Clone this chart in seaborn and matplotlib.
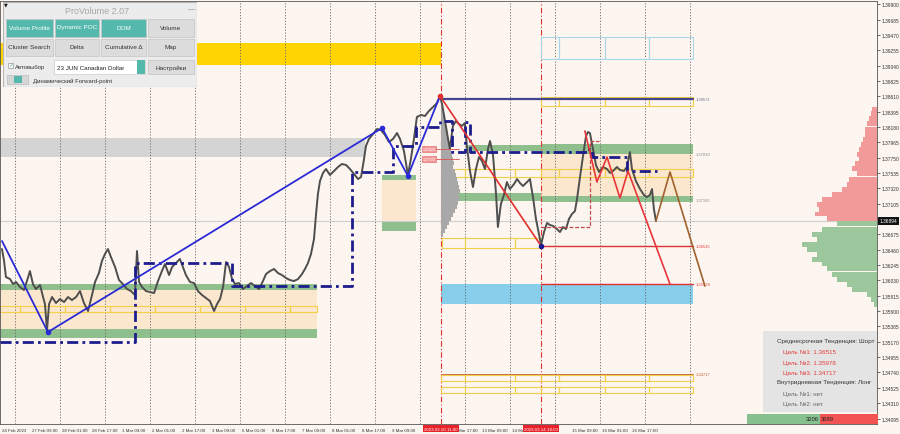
import matplotlib
matplotlib.use("Agg")
from matplotlib import pyplot as plt
from matplotlib import transforms
from matplotlib.patches import Rectangle
import numpy as np
import seaborn as sns

# --- chart data (hours since 24 Feb 2023 17:00, trading hours only; prices USDCAD) ---
tick_labels = ["24 Feb 2023", "27 Feb 09:00", "28 Feb 01:00", "28 Feb 17:00", "1 Mar 09:00",
               "2 Mar 01:00", "2 Mar 17:00", "3 Mar 09:00", "6 Mar 01:00", "6 Mar 17:00",
               "7 Mar 09:00", "8 Mar 01:00", "8 Mar 17:00", "9 Mar 09:00", "",
               "10 Mar 17:00", "13 Mar 09:00", "14 Mar 01:00", "", "15 Mar 09:00",
               "16 Mar 01:00", "16 Mar 17:00"]
marked_times = [234.1, 287.5]
marked_labels = ["2023.03.10 11:00", "2023.03.14 18:00"]

price_hours = [0, 1.1, 2.1, 4.3, 5.9, 7.5, 9.6, 11.7, 13.3, 14.9,
               16.5, 18.1, 20.3, 21.9, 22.9, 24.0, 25.1, 26.7, 28.8, 30.9,
               33.1, 35.2, 37.3, 39.5, 41.6, 43.7, 45.9, 48.0, 49.6, 51.7,
               53.3, 54.9, 56.5, 58.1, 60.3, 62.4, 64.5, 66.7, 68.8, 70.9,
               72.0, 73.1, 74.7, 76.8, 78.9, 81.1, 83.2, 85.3, 86.9, 89.1,
               90.7, 92.8, 94.9, 96.5, 98.1, 100.3, 102.4, 104.5, 106.7, 108.8,
               110.9, 113.1, 114.7, 116.3, 117.9, 119.5, 121.1, 122.7, 124.3, 126.4,
               128.5, 130.7, 132.8, 134.9, 137.1, 139.2, 140.8, 142.9, 145.1, 147.2,
               149.3, 151.5, 153.6, 155.7, 157.9, 160.0, 161.6, 163.2, 164.8, 166.4,
               167.5, 168.5, 169.6, 171.2, 172.8, 174.9, 177.1, 179.2, 181.3, 183.5,
               185.6, 187.7, 189.9, 191.5, 193.1, 194.1, 195.7, 197.9, 200.0, 202.1,
               204.3, 206.4, 208.5, 210.7, 212.3, 214.4, 216.5, 218.1, 219.7, 221.3,
               223.5, 225.6, 227.7, 229.9, 232.0, 233.6, 234.7, 236.3, 237.9, 238.9,
               240.5, 242.1, 243.7, 245.3, 246.9, 248.0, 249.6, 251.2, 252.8, 254.4,
               256.0, 257.6, 259.2, 260.3, 261.9, 263.5, 264.5, 266.1, 267.7, 269.3,
               270.9, 273.1, 274.7, 276.3, 277.9, 280.0, 281.6, 283.2, 284.8, 286.4,
               287.5, 289.1, 290.7, 292.3, 293.9, 296.0, 297.6, 299.2, 300.8, 302.4,
               304.0, 305.6, 306.7, 308.3, 309.9, 311.5, 312.5, 313.6, 315.2, 316.8,
               318.4, 320.5, 322.7, 324.3, 325.9, 328.0, 329.6, 331.7, 333.3, 334.9,
               336.0, 338.1, 340.3, 342.4, 344.0, 345.6, 346.7, 347.7, 348.8]
price_close = [1.36471, 1.36303, 1.36078, 1.36050, 1.35980, 1.36008, 1.35938, 1.35896, 1.36022, 1.36162,
               1.35980, 1.35910, 1.35966, 1.35798, 1.35700, 1.35336, 1.35700, 1.35798, 1.35714, 1.35770,
               1.35728, 1.35798, 1.35756, 1.35798, 1.35882, 1.35714, 1.35602, 1.35826, 1.36008, 1.36134,
               1.36303, 1.36401, 1.36471, 1.36359, 1.36219, 1.36036, 1.35980, 1.35910, 1.35882, 1.35826,
               1.36443, 1.36008, 1.35938, 1.35882, 1.35868, 1.35854, 1.36022, 1.36162, 1.36261, 1.36106,
               1.36219, 1.36275, 1.36331, 1.36219, 1.36106, 1.36008, 1.35994, 1.35882, 1.35826, 1.35784,
               1.35742, 1.35602, 1.35700, 1.35770, 1.35938, 1.36289, 1.36219, 1.36050, 1.35980, 1.35994,
               1.35910, 1.35952, 1.35994, 1.35952, 1.35910, 1.36022, 1.36120, 1.36162, 1.36191, 1.36134,
               1.36106, 1.36064, 1.36036, 1.36022, 1.36050, 1.36120, 1.36191, 1.36275, 1.36401, 1.36611,
               1.36962, 1.37242, 1.37424, 1.37537, 1.37593, 1.37509, 1.37565, 1.37621, 1.37663, 1.37649,
               1.37593, 1.37523, 1.37452, 1.37481, 1.37733, 1.37915, 1.38013, 1.38083, 1.38153, 1.38139,
               1.38069, 1.37971, 1.38013, 1.38097, 1.38013, 1.37845, 1.37509, 1.37733, 1.38013, 1.38322,
               1.38350, 1.38336, 1.38406, 1.38462, 1.38518, 1.38616, 1.38504, 1.38266, 1.38013, 1.37873,
               1.38196, 1.38266, 1.38224, 1.38196, 1.38238, 1.37901, 1.37565, 1.37340, 1.37593, 1.37761,
               1.37705, 1.37593, 1.37873, 1.37985, 1.37789, 1.37242, 1.36780, 1.37102, 1.37228, 1.37410,
               1.37312, 1.37382, 1.37452, 1.37396, 1.37354, 1.37410, 1.37452, 1.37200, 1.36892, 1.36681,
               1.36527, 1.36709, 1.36836, 1.36808, 1.36794, 1.36751, 1.36709, 1.36780, 1.36751, 1.36892,
               1.36962, 1.37004, 1.37172, 1.37481, 1.37775, 1.38055, 1.38111, 1.38097, 1.37873, 1.37649,
               1.37551, 1.37621, 1.37593, 1.37537, 1.37565, 1.37621, 1.37579, 1.37565, 1.37621, 1.37831,
               1.37593, 1.37424, 1.37312, 1.37228, 1.37200, 1.37228, 1.37312, 1.37032, 1.36864]
last_price = 1.36864
last_label = "1.36894"

# dynamic POC (stepped) line
poc_hours = [-1.1, 70.9, 122.7, 186.7, 208.5, 220.8, 233.6, 240.0, 246.9, 249.6, 312.0, 314.7, 333.3, 349.3]
poc_price = [1.35167, 1.36275, 1.35952, 1.37551, 1.37915, 1.38181, 1.38266, 1.37831, 1.38252,
             1.37831, 1.37873, 1.37761, 1.37565, 1.37565]

# swing lines
swing_hours = [0, 24.5, 202.7, 216.5, 233.6]
swing_price = [1.36583, 1.35307, 1.38167, 1.37495, 1.38616]
drop_hours = [233.6, 287.5]
drop_price = [1.38616, 1.36515]
wedge_hours = [310.9, 317.3, 322.7, 329.6, 333.9, 356.3]
wedge_price = [1.38125, 1.37410, 1.37761, 1.37186, 1.37565, 1.35978]
fcst_hours = [348.8, 356.3, 374.9]
fcst_price = [1.36864, 1.37551, 1.35952]
fwd_hours = [287.5, 313.6, 313.6, 318.4]
fwd_price = [1.36780, 1.36780, 1.37985, 1.37985]

# target levels
level_values = [1.38571, 1.37810, 1.37165, 1.36515, 1.35978, 1.34717]
level_colors = ["#6a6a8a", "#8a8a8a", "#8a8a8a", "#e03c3c", "#e03c3c", "#c0603a"]

# zones: (start, end, low, high)
gold_zone = (-1.1, 234.1, 1.39051, 1.39359)
gray_zone = (-1.1, 193.6, 1.37761, 1.38027)
blue_zone = (234.1, 368.5, 1.35700, 1.35980)
green_zones = [(-1.1, 168.0, 1.35896, 1.35980), (-1.1, 168.0, 1.35223, 1.35349),
               (202.7, 220.8, 1.37438, 1.37509), (202.7, 220.8, 1.36723, 1.36864),
               (287.5, 368.5, 1.37803, 1.37943), (287.5, 368.5, 1.37130, 1.37214),
               (248.5, 287.5, 1.37845, 1.37929), (234.7, 287.5, 1.37144, 1.37256)]
cream_zones = [(-1.1, 168.0, 1.35349, 1.35896), (202.7, 220.8, 1.36864, 1.37438),
               (287.5, 368.5, 1.37214, 1.37803)]
# daily range boxes: (edges, low, high)
yellow_boxes = [([-1.1, 9.6, 33.6, 57.6, 81.6, 105.6, 129.6, 153.6, 168.0], 1.35588, 1.35672),
                ([234.7, 246.9, 273.6, 287.5, 297.1, 321.6, 345.1, 368.5], 1.37481, 1.37593),
                ([234.7, 246.9, 273.6, 287.5], 1.36485, 1.36625),
                ([287.5, 297.1, 321.6, 345.1, 368.5], 1.38476, 1.38602),
                ([234.1, 246.9, 273.6, 287.5, 297.1, 321.6, 345.1, 368.5], 1.34620, 1.34703),
                ([234.1, 246.9, 273.6, 287.5, 297.1, 321.6, 345.1, 368.5], 1.34452, 1.34536)]
cyan_boxes = [([287.5, 297.1, 321.6, 345.1, 368.5], 1.39135, 1.39443)]

# session volume profile (10 Mar)
sess_levels = [1.38462, 1.38406, 1.38350, 1.38294, 1.38238, 1.38181, 1.38125, 1.38069, 1.38013, 1.37957,
               1.37901, 1.37845, 1.37789, 1.37733, 1.37677, 1.37621, 1.37565, 1.37509, 1.37452, 1.37396,
               1.37340, 1.37284, 1.37228, 1.37172, 1.37116, 1.37060, 1.37004, 1.36948, 1.36892, 1.36836,
               1.36780, 1.36723, 1.36667]
sess_volume = [1.1, 1.6, 1.6, 2.1, 2.7, 2.7, 3.2, 3.7, 4.3, 4.8,
               4.8, 5.3, 5.9, 6.4, 6.9, 6.4, 7.5, 8.0, 8.5, 9.1,
               9.6, 10.1, 9.6, 10.1, 9.1, 8.5, 7.5, 6.4, 5.3, 4.3,
               3.2, 2.1, 1.1]

# contract volume profile on the right edge
vp_levels = [1.39654, 1.39415, 1.39079, 1.38911, 1.38602,
             1.38434, 1.38364, 1.38294, 1.38224, 1.38153, 1.38083, 1.38013, 1.37943, 1.37873, 1.37803,
             1.37733, 1.37663, 1.37593, 1.37523, 1.37452, 1.37382, 1.37312, 1.37242, 1.37172, 1.37102,
             1.37032, 1.36962, 1.36892,
             1.36822, 1.36751, 1.36681, 1.36611, 1.36541, 1.36471, 1.36401, 1.36331, 1.36261, 1.36191,
             1.36120, 1.36050, 1.35980, 1.35910, 1.35840, 1.35770, 1.35700]
vp_volume = [6.4, 24.0, 5.3, 21.3, 4.3,
             2.7, 3.2, 4.3, 5.3, 6.4, 6.4, 7.5, 8.5, 9.6, 10.7,
             9.6, 11.7, 13.3, 10.7, 14.9, 16.0, 18.7, 24.0, 29.3, 32.0,
             30.9, 33.1, 26.7,
             21.3, 29.3, 34.7, 32.0, 40.0, 37.3, 32.0, 34.7, 29.3, 26.7,
             24.0, 21.3, 16.0, 13.3, 5.3, 3.2, 1.6]

info_lines = ["Среднесрочная Тенденция: Шорт", "Цель №1: 1.36515", "Цель №2: 1.35978",
              "Цель №3: 1.34717", "Внутридневная Тенденция: Лонг", "Цель №1: нет", "Цель №2: нет"]
buy_volume, sell_volume = "3206", "3689"

# --- style ---
sns.set_style("white")
plt.rcParams['font.family'] = ['Liberation Sans', 'DejaVu Sans']
bg = "#fdf5ef"
green = "#8fbf8c"
cream = "#fbe7cd"
navy = "#1c1c8c"

fig = plt.figure(figsize=(9, 4.35), dpi=100, facecolor=bg)
ax = fig.add_axes([0, 10 / 435, 877 / 900, 423 / 435])
ax.set_facecolor(bg)
x_lo, x_hi = -1.07, 466.7
ax.set_xlim(x_lo, x_hi)
ax.set_ylim(1.34018, 1.39948)


def band(z, color, zo=1):
    ax.fill_between([z[0], z[1]], z[2], z[3], color=color, lw=0, zorder=zo)


band(gold_zone, "#ffd400")
band(gray_zone, "#d4d4d4")
band(blue_zone, "#87ceeb")
for z in cream_zones:
    band(z, cream)
for z in green_zones:
    band(z, green)
for edges, lo, hi in yellow_boxes:
    for a, b in zip(edges[:-1], edges[1:]):
        ax.add_patch(Rectangle((a, lo), b - a, hi - lo, fill=False, ec="#f2d04a", lw=0.8, zorder=2))
for edges, lo, hi in cyan_boxes:
    for a, b in zip(edges[:-1], edges[1:]):
        ax.add_patch(Rectangle((a, lo), b - a, hi - lo, fill=False, ec="#a6d8ea", lw=0.8, zorder=2))

# day separators and marked sessions
for k in range(16):
    ax.axvline(7 + 24 * k, color="#666666", ls=(0, (1.5, 2)), lw=0.6, zorder=1.5)
for t in marked_times:
    ax.axvline(t, color="#e03030", ls=(0, (5, 2, 1, 2)), lw=0.8, zorder=1.5)
ax.axhline(last_price, color="#cfcfcf", lw=0.8, zorder=1.5)

# volume profiles
ax.barh(sess_levels, sess_volume, height=0.00056, left=234.1, color="#a8a8a8", lw=0, zorder=2.5)
vp_colors = ["#f29a9a" if p > last_price else "#9cc79c" for p in vp_levels]
vp_h = [0.00012 if i < 5 else 0.0007 for i in range(len(vp_levels))]
ax.barh(vp_levels, [-v for v in vp_volume], height=vp_h, left=x_hi, color=vp_colors, lw=0, zorder=2.5)

# price
sns.lineplot(x=price_hours, y=price_close, ax=ax, color="#4e4e4e", linewidth=1.4,
             estimator=None, sort=False, zorder=4)

# POC steps
ax.plot(poc_hours, poc_price, drawstyle="steps-post", color=navy, lw=2.0,
        ls=(0, (4, 1.5, 1, 1.5)), zorder=5)

# levels
ax.plot([234.1, 368.5], [level_values[0]] * 2, color="#45458f", lw=1.6, zorder=5)
for v in level_values[3:5]:
    ax.plot([287.5, 368.5], [v, v], color="#e03030", lw=1.0, zorder=5)
ax.plot([234.1, 368.5], [level_values[5]] * 2, color="#c8704a", lw=0.7, zorder=5)
for v, c in zip(level_values, level_colors):
    ax.text(370, v, f"{v:.5f}", fontsize=3.0, color=c, va="center", ha="left", zorder=6)

ax.plot(swing_hours, swing_price, color="#2a2ad6", lw=1.3, zorder=6)
ax.scatter(swing_hours[1:4], swing_price[1:4], s=9, color="#2a2ad6", zorder=7)
ax.plot(drop_hours, drop_price, color="#e03030", lw=1.2, zorder=6)
ax.scatter([drop_hours[0]], [drop_price[0]], s=9, color="#e03030", zorder=7)
ax.scatter([drop_hours[1]], [drop_price[1]], s=9, color=navy, zorder=7)
ax.plot(wedge_hours, wedge_price, color="#e8353a", lw=1.2, zorder=6)
ax.plot(fcst_hours, fcst_price, color="#a0622e", lw=1.2, zorder=6)
ax.plot(fwd_hours, fwd_price, color="#c04848", lw=0.9, ls=(0, (3, 1.5)), zorder=5)

# small price tags left of the session start
for v, s in zip([1.37873, 1.37733], ["1.37829", "1.37723"]):
    ax.plot([227.7, 244.0], [v, v], color="#e05050", lw=0.6, zorder=5)
    ax.text(227.7, v, s, fontsize=2.6, color="#ffffff", ha="center", va="center", zorder=7,
            bbox=dict(boxstyle="square,pad=0.15", fc="#f29a9a", ec="#e06060", lw=0.4))

# axes and ticks
ax.set_xticks([16 * k for k in range(len(tick_labels))])
ax.set_xticklabels(tick_labels)
for lab in ax.get_xticklabels():
    lab.set_ha("left")
ax.tick_params(axis="x", labelsize=3.2, length=2, width=0.5, pad=1, colors="#333333")
ax.yaxis.tick_right()
y_ticks = [round(1.34095 + 0.00215 * k, 5) for k in range(28)]
ax.set_yticks(y_ticks)
ax.set_yticklabels(["" if abs(v - last_price) < 0.0006 else f"{v:.5f}" for v in y_ticks])
ax.tick_params(axis="y", labelsize=3.5, length=2, width=0.5, pad=1.5, colors="#333333")
for sp in ax.spines.values():
    sp.set_color("#555555")
    sp.set_linewidth(0.6)
ax.grid(False)

xtr = transforms.blended_transform_factory(ax.transData, ax.transAxes)
for t, s in zip(marked_times, marked_labels):
    ax.text(t, -0.006, s, transform=xtr, fontsize=3.2, color="white", ha="center", va="top",
            zorder=10, clip_on=False,
            bbox=dict(boxstyle="square,pad=0.3", fc="#e8222a", ec="none"))
ytr = transforms.blended_transform_factory(ax.transAxes, ax.transData)
ax.text(1.003, last_price, last_label, transform=ytr, fontsize=3.5, color="white", ha="left",
        va="center", clip_on=False,
        bbox=dict(boxstyle="square,pad=0.3", fc="#111111", ec="none"))

# bottom-right trend panel
iax = fig.add_axes([763 / 900, 22 / 435, 114 / 900, 81 / 435])
iax.set_xlim(0, 114)
iax.set_ylim(81, 0)
iax.axis("off")
iax.add_patch(Rectangle((0, 0), 114, 81, fc="#e4e4e4", ec="none"))
info_y = [10, 20, 31, 41, 51, 62, 72]
info_x = [14, 20, 20, 20, 14, 20, 20]
info_c = ["#333333", "#e33a3a", "#e33a3a", "#e33a3a", "#333333", "#666666", "#666666"]
for s, x, y, c in zip(info_lines, info_x, info_y, info_c):
    iax.text(x, y, s, fontsize=4.5, color=c, va="center", ha="left")

# buy/sell volume strip
vax = fig.add_axes([747 / 900, 10 / 435, 131 / 900, 10 / 435])
vax.set_xlim(0, 131)
vax.set_ylim(0, 1)
vax.axis("off")
vax.add_patch(Rectangle((0, 0), 73, 1, fc="#86c08e", ec="none"))
vax.add_patch(Rectangle((73, 0), 58, 1, fc="#f25353", ec="none"))
vax.text(72, 0.5, buy_volume, fontsize=4.2, color="#222222", ha="right", va="center")
vax.text(74, 0.5, sell_volume, fontsize=4.2, color="#222222", ha="left", va="center")

# ProVolume control panel
pax = fig.add_axes([3 / 900, 1 - 88 / 435, 194 / 900, 85 / 435])
pax.set_xlim(0, 194)
pax.set_ylim(85, 0)
pax.axis("off")
pax.add_patch(Rectangle((0, 0), 194, 85, fc="#ececec", ec="#b5b5b5", lw=0.8))
pax.text(94, 8, "ProVolume 2.07", fontsize=6.5, color="#a8a8a8", ha="center", va="center")
pax.text(188, 7, "—", fontsize=5, color="#888888", ha="center", va="center")
teal = "#55b8ac"
btn_x = [(3, 50), (52, 96), (98, 143), (145, 191)]
rows = [(17, 35, ["Volume Profile", "Dynamic POC", "DOM", "Volume"], [True, True, True, False]),
        (37, 54, ["Cluster Search", "Delta", "Cumulative Δ", "Map"], [False] * 4)]
for y0, y1, names, on in rows:
    for (a, b), n, o in zip(btn_x, names, on):
        pax.add_patch(Rectangle((a, y0), b - a, y1 - y0, fc=teal if o else "#dcdcdc",
                                ec="#c4c4c4", lw=0.5))
        pax.text((a + b) / 2, (y0 + y1) / 2 - 1, n, fontsize=4.6,
                 color="white" if o else "#333333", ha="center", va="center")
pax.add_patch(Rectangle((5, 61), 5, 5, fc="white", ec="#999999", lw=0.5))
pax.text(7.5, 62.5, "✓", fontsize=4.5, color=teal, ha="center", va="center", family=['DejaVu Sans'])
pax.text(12, 64.5, "Автовыбор", fontsize=4.3, color="#333333", va="center")
pax.add_patch(Rectangle((51, 58), 91, 14, fc="white", ec="#cccccc", lw=0.5))
pax.add_patch(Rectangle((134, 58), 8, 14, fc=teal, ec="none"))
pax.text(54, 65, "23 JUN Canadian Dollar", fontsize=4.5, color="#222222", va="center")
pax.add_patch(Rectangle((145, 58), 46, 14, fc="#dcdcdc", ec="#c4c4c4", lw=0.5))
pax.text(168, 65, "Настройки", fontsize=4.6, color="#333333", ha="center", va="center")
pax.add_patch(Rectangle((4, 73), 21, 9, fc="#d6d6d6", ec="#bbbbbb", lw=0.5))
pax.add_patch(Rectangle((11, 74), 8, 7, fc=teal, ec="none"))
pax.text(30, 78, "Динамический Forward-point", fontsize=4.3, color="#333333", va="center")
fig.text(4 / 900, 1 - 5 / 435, "▼", fontsize=3.5, color="#111111", ha="left", va="center",
         family=['DejaVu Sans'])

fig.savefig("out.png", dpi=100, facecolor=bg)
